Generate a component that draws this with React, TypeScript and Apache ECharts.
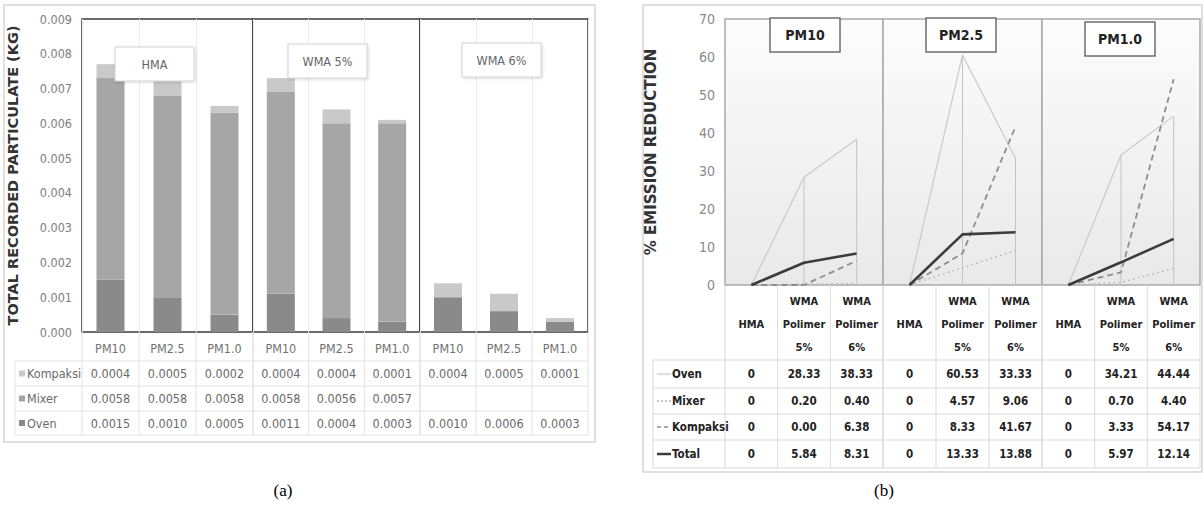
import React, { useEffect, useRef } from 'react';
import * as echarts from 'echarts';

// ---------- data: panel (a) ----------
const pmCategories = ['PM10', 'PM2.5', 'PM1.0'];
const mixGroups = ['HMA', 'WMA 5%', 'WMA 6%'];
const ovenKg = [0.0015, 0.001, 0.0005, 0.0011, 0.0004, 0.0003, 0.001, 0.0006, 0.0003];
const mixerKg: (number | null)[] = [0.0058, 0.0058, 0.0058, 0.0058, 0.0056, 0.0057, null, null, null];
const kompaksiKg = [0.0004, 0.0005, 0.0002, 0.0004, 0.0004, 0.0001, 0.0004, 0.0005, 0.0001];
const kgMax = 0.009;
const kgStep = 0.001;

// ---------- data: panel (b) ----------
const pmGroups = ['PM10', 'PM2.5', 'PM1.0'];
const mixCategories = ['HMA', 'WMA\nPolimer\n5%', 'WMA\nPolimer\n6%'];
const ovenPct = [0, 28.33, 38.33, 0, 60.53, 33.33, 0, 34.21, 44.44];
const mixerPct = [0, 0.2, 0.4, 0, 4.57, 9.06, 0, 0.7, 4.4];
const kompaksiPct = [0, 0.0, 6.38, 0, 8.33, 41.67, 0, 3.33, 54.17];
const totalPct = [0, 5.84, 8.31, 0, 13.33, 13.88, 0, 5.97, 12.14];
const pctMax = 70;
const pctStep = 10;

// ---------- layout ----------
const A = { xs: [82, 253, 420, 588], top: 19, bottom: 332, tableLeft: 15, rows: [361, 386, 411, 435] };
const B = { xs: [725, 883, 1042, 1200], top: 19, bottom: 285, tableLeft: 653, rows: [360, 388, 414, 440, 468] };
const NARROW = "'DejaVu Sans Condensed', 'Liberation Sans Narrow', sans-serif";
const SANS = "'DejaVu Sans', 'Liberation Sans', sans-serif";

const colA = { oven: '#8a8a8a', mixer: '#a6a6a6', kompaksi: '#c9c9c9' };

function gline(x1: number, y1: number, x2: number, y2: number, stroke: string, lineWidth = 1, z = 1, lineDash?: number[]) {
  return { type: 'line', silent: true, z, shape: { x1, y1, x2, y2 }, style: { stroke, lineWidth, lineDash } };
}
function gtext(x: number, y: number, text: string, opt: any = {}) {
  return {
    type: 'text', silent: true, z: opt.z ?? 2, x, y,
    style: {
      text, fill: opt.fill ?? '#666', fontSize: opt.fontSize ?? 12.5, fontFamily: opt.fontFamily ?? NARROW,
      fontWeight: opt.fontWeight ?? 'normal', align: opt.align ?? 'center', verticalAlign: 'middle',
    },
  };
}

function buildOption() {
  const grid: any[] = [];
  const xAxis: any[] = [];
  const yAxis: any[] = [];
  const series: any[] = [];
  const graphic: any[] = [];

  // panel frames
  graphic.push({ type: 'rect', silent: true, z: 0, shape: { x: 4, y: 5, width: 591, height: 437 }, style: { fill: 'none', stroke: '#d6d6d6', lineWidth: 1.5 } });
  graphic.push({ type: 'rect', silent: true, z: 0, shape: { x: 643, y: 5, width: 559, height: 467 }, style: { fill: 'none', stroke: '#d6d6d6', lineWidth: 1.5 } });

  // ---- panel (a) ----
  for (let g = 0; g < 3; g++) {
    const left = A.xs[g];
    const width = A.xs[g + 1] - A.xs[g];
    grid.push({ left, top: A.top, width, height: A.bottom - A.top, show: true, borderColor: '#3a3a3a', borderWidth: 1.5, backgroundColor: 'transparent' });
    xAxis.push({
      type: 'category', gridIndex: g, data: pmCategories,
      axisLine: { show: false }, axisTick: { show: false },
      axisLabel: { interval: 0, margin: 10, color: '#727272', fontSize: 12.5, fontFamily: NARROW },
      splitLine: { show: true, interval: 0, lineStyle: { color: '#ececec', width: 1 } },
    });
    yAxis.push({
      type: 'value', gridIndex: g, min: 0, max: kgMax, interval: kgStep,
      axisLine: { show: false }, axisTick: { show: false }, splitLine: { show: false },
      axisLabel: g === 0 ? { show: true, margin: 10, color: '#7e7e7e', fontSize: 12.5, fontFamily: NARROW, formatter: (v: number) => v.toFixed(3) } : { show: false },
      name: g === 0 ? 'TOTAL RECORDED PARTICULATE (KG)' : '',
      nameLocation: 'middle', nameRotate: 90, nameGap: 62,
      nameTextStyle: { color: '#333', fontSize: 14.5, fontWeight: 'bold', fontFamily: SANS },
    });
    const s = g * 3;
    series.push(
      { type: 'bar', name: 'Oven', xAxisIndex: g, yAxisIndex: g, stack: 'a' + g, barWidth: 28, data: ovenKg.slice(s, s + 3), itemStyle: { color: colA.oven } },
      { type: 'bar', name: 'Mixer', xAxisIndex: g, yAxisIndex: g, stack: 'a' + g, barWidth: 28, data: mixerKg.slice(s, s + 3), itemStyle: { color: colA.mixer } },
      { type: 'bar', name: 'Kompaksi', xAxisIndex: g, yAxisIndex: g, stack: 'a' + g, barWidth: 28, data: kompaksiKg.slice(s, s + 3), itemStyle: { color: colA.kompaksi } },
    );
  }

  // group label boxes (a)
  const boxA = [[115, 47], [288, 44], [462, 43]];
  mixGroups.forEach((name, g) => {
    const [x, y] = boxA[g];
    graphic.push({ type: 'rect', silent: true, z: 100, shape: { x, y, width: 79, height: 34 }, style: { fill: '#fff', stroke: '#d2d2d2', lineWidth: 1, shadowBlur: 3, shadowColor: 'rgba(0,0,0,0.15)', shadowOffsetX: 1, shadowOffsetY: 1 } });
    graphic.push({ ...gtext(x + 39.5, y + 17, name, { fill: '#666', fontSize: 12.5 }), z: 101 });
  });

  // table (a)
  const tA = '#e2e2e2';
  A.rows.forEach((y) => graphic.push(gline(A.tableLeft, y, A.xs[3], y, tA)));
  graphic.push(gline(A.tableLeft, A.rows[0], A.tableLeft, A.rows[3], tA));
  for (let g = 0; g < 3; g++) {
    const w = (A.xs[g + 1] - A.xs[g]) / 3;
    for (let k = 0; k <= 3; k++) {
      const x = A.xs[g] + k * w;
      graphic.push(gline(x, A.bottom, x, A.rows[3], tA));
    }
  }
  const rowsA: [string, string, (number | null)[]][] = [
    ['Kompaksi', colA.kompaksi, kompaksiKg],
    ['Mixer', colA.mixer, mixerKg],
    ['Oven', colA.oven, ovenKg],
  ];
  rowsA.forEach(([name, color, vals], r) => {
    const cy = (A.rows[r] + A.rows[r + 1]) / 2;
    graphic.push({ type: 'rect', silent: true, z: 2, shape: { x: 19, y: cy - 3, width: 6, height: 6 }, style: { fill: color } });
    graphic.push(gtext(27, cy, name, { align: 'left', fill: '#6a6a6a', fontSize: 12.5 }));
    vals.forEach((v, i) => {
      if (v == null) return;
      const g = Math.floor(i / 3);
      const w = (A.xs[g + 1] - A.xs[g]) / 3;
      const cx = A.xs[g] + ((i % 3) + 0.5) * w;
      graphic.push(gtext(cx, cy, v.toFixed(4), { fill: '#6a6a6a', fontSize: 12.5 }));
    });
  });

  // ---- panel (b) ----
  const bg = new echarts.graphic.LinearGradient(0, 0, 0, 1, [
    { offset: 0, color: '#fcfcfc' },
    { offset: 1, color: '#e9e9e9' },
  ]);
  for (let g = 0; g < 3; g++) {
    const gi = g + 3;
    const left = B.xs[g];
    const width = B.xs[g + 1] - B.xs[g];
    grid.push({ left, top: B.top, width, height: B.bottom - B.top, show: true, borderColor: '#a9a9a9', borderWidth: 1.5, backgroundColor: bg });
    xAxis.push({
      type: 'category', gridIndex: gi, data: mixCategories,
      axisLine: { show: false }, axisTick: { show: false }, splitLine: { show: false },
      axisLabel: { interval: 0, margin: 39, verticalAlign: 'middle', lineHeight: 23, color: '#222', fontSize: 11, fontWeight: 'bold', fontFamily: NARROW },
    });
    yAxis.push({
      type: 'value', gridIndex: gi, min: 0, max: pctMax, interval: pctStep,
      axisLine: { show: false }, axisTick: { show: false }, splitLine: { show: false },
      axisLabel: g === 0 ? { show: true, margin: 10, color: '#8a8a8a', fontSize: 14, fontFamily: NARROW } : { show: false },
      name: g === 0 ? '% EMISSION REDUCTION' : '',
      nameLocation: 'middle', nameRotate: 90, nameGap: 67,
      nameTextStyle: { color: '#333', fontSize: 15, fontWeight: 'bold', fontFamily: SANS },
    });
    const s = g * 3;
    const base = { xAxisIndex: gi, yAxisIndex: gi, symbol: 'none', silent: true };
    series.push(
      { type: 'bar', name: 'drop', xAxisIndex: gi, yAxisIndex: gi, barWidth: 1, z: 1, silent: true, data: ovenPct.slice(s, s + 3), itemStyle: { color: '#c4c4c4' } },
      { ...base, type: 'line', name: 'Oven', data: ovenPct.slice(s, s + 3), lineStyle: { color: '#c9c9c9', width: 1.2, type: 'solid' } },
      { ...base, type: 'line', name: 'Mixer', data: mixerPct.slice(s, s + 3), lineStyle: { color: '#bdbdbd', width: 1.5, type: [2, 3] } },
      { ...base, type: 'line', name: 'Kompaksi', data: kompaksiPct.slice(s, s + 3), lineStyle: { color: '#8e8e8e', width: 1.8, type: [6, 4] } },
      { ...base, type: 'line', name: 'Total', data: totalPct.slice(s, s + 3), lineStyle: { color: '#3c3c3c', width: 2.6, type: 'solid' } },
    );
  }

  // group label boxes (b)
  const boxB = [[770, 18], [926, 18], [1085, 22]];
  pmGroups.forEach((name, g) => {
    const [x, y] = boxB[g];
    graphic.push({ type: 'rect', silent: true, z: 100, shape: { x, y, width: 70, height: 34 }, style: { fill: '#fff', stroke: '#6e6e6e', lineWidth: 1.5 } });
    graphic.push({ ...gtext(x + 35, y + 17, name, { fill: '#222', fontSize: 14, fontWeight: 'bold' }), z: 101 });
  });

  // table (b)
  const tB = '#d9d9d9';
  B.rows.forEach((y) => graphic.push(gline(B.tableLeft, y, B.xs[3], y, tB)));
  graphic.push(gline(B.tableLeft, B.rows[0], B.tableLeft, B.rows[4], tB));
  for (let g = 0; g < 3; g++) {
    const w = (B.xs[g + 1] - B.xs[g]) / 3;
    for (let k = 0; k <= 3; k++) {
      const x = B.xs[g] + k * w;
      graphic.push(gline(x, B.bottom, x, B.rows[4], tB));
    }
  }
  const rowsB: [string, any, number[]][] = [
    ['Oven', { stroke: '#c9c9c9', lw: 1.2, dash: undefined }, ovenPct],
    ['Mixer', { stroke: '#b5b5b5', lw: 1.5, dash: [2, 2] }, mixerPct],
    ['Kompaksi', { stroke: '#8e8e8e', lw: 1.5, dash: [4, 3] }, kompaksiPct],
    ['Total', { stroke: '#3c3c3c', lw: 2.5, dash: undefined }, totalPct],
  ];
  rowsB.forEach(([name, st, vals], r) => {
    const cy = (B.rows[r] + B.rows[r + 1]) / 2;
    graphic.push(gline(657, cy, 671, cy, st.stroke, st.lw, 2, st.dash));
    graphic.push(gtext(672, cy, name, { align: 'left', fill: '#222', fontSize: 11.5, fontWeight: 'bold' }));
    vals.forEach((v, i) => {
      const g = Math.floor(i / 3);
      const w = (B.xs[g + 1] - B.xs[g]) / 3;
      const cx = B.xs[g] + ((i % 3) + 0.5) * w;
      const label = i % 3 === 0 ? String(v) : v.toFixed(2);
      graphic.push(gtext(cx, cy, label, { fill: '#222', fontSize: 11.5, fontWeight: 'bold' }));
    });
  });

  // captions
  graphic.push(gtext(283, 490, '(a)', { fill: '#000', fontSize: 17, fontFamily: "'Liberation Serif', 'DejaVu Serif', serif" }));
  graphic.push(gtext(884, 490, '(b)', { fill: '#000', fontSize: 17, fontFamily: "'Liberation Serif', 'DejaVu Serif', serif" }));

  return {
    animation: false,
    backgroundColor: '#fff',
    grid, xAxis, yAxis, series, graphic,
  };
}

export default function App() {
  const ref = useRef<HTMLDivElement>(null);
  useEffect(() => {
    if (!ref.current) return;
    const chart = echarts.init(ref.current, undefined, { renderer: 'svg' });
    chart.setOption(buildOption() as any);
    return () => chart.dispose();
  }, []);
  return <div ref={ref} style={{ position: 'fixed', left: 0, top: 0, width: 1204, height: 508, background: '#fff' }} />;
}
